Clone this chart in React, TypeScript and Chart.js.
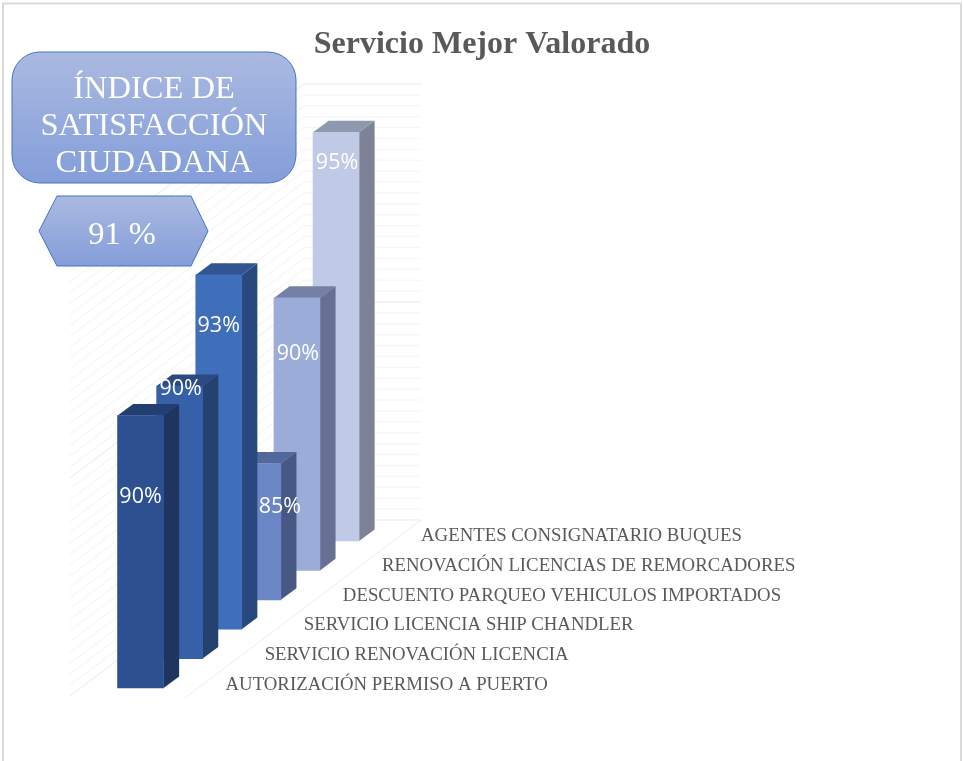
import React, { useEffect, useRef } from "react";
import { Chart, registerables } from "chart.js";

Chart.register(...registerables);

const categories = [
  "AUTORIZACIÓN PERMISO A PUERTO",
  "SERVICIO RENOVACIÓN LICENCIA",
  "SERVICIO LICENCIA SHIP CHANDLER",
  "DESCUENTO PARQUEO VEHICULOS IMPORTADOS",
  "RENOVACIÓN LICENCIAS DE REMORCADORES",
  "AGENTES CONSIGNATARIO BUQUES",
];
const values = [90, 90, 93, 85, 90, 95];
const frontColors = ["#2C5090", "#3660A8", "#3F6EBB", "#6A86C6", "#9CACD9", "#C0C9E5"];
const sideColors = ["#1F3560", "#24416F", "#29497E", "#485884", "#676F92", "#7E8296"];
const topColors = ["#233F72", "#2A4A80", "#305590", "#526899", "#7580A5", "#8F99AE"];
// label anchor relative to the bar's centre (x) and top (y)
const labelDx = [0, 1, 0, 22, 1, 1];
const labelDy = [80, 2, 50, 42, 55, 30];

const STEP_Y = 29.4;
const DEPTH_X = 15.6;
const DEPTH_Y = 11.6;
const WALL_SCALE = 0.8;

const bars3d = {
  id: "bars3d",
  afterDatasetsUpdate(chart: any) {
    const meta = chart.getDatasetMeta(0);
    meta.data.forEach((el: any, i: number) => {
      el.y -= STEP_Y * i;
      el.base -= STEP_Y * i;
    });
  },
  beforeDatasetsDraw(chart: any) {
    const { ctx, scales, chartArea } = chart;
    const y = scales.y;
    const floorY = 520;
    const backL = 304;
    const backR = 421;
    const wallDx = 234;
    const wallDy = 176;
    ctx.save();
    y.ticks.forEach((t: any, i: number) => {
      const py = floorY - (chartArea.bottom - y.getPixelForValue(t.value)) * WALL_SCALE;
      ctx.strokeStyle = i % 20 === 0 ? "rgba(0,0,0,0.06)" : "rgba(0,0,0,0.03)";
      ctx.lineWidth = 1.5;
      ctx.beginPath();
      ctx.moveTo(backL - wallDx, py + wallDy);
      ctx.lineTo(backL, py);
      ctx.lineTo(backR, py);
      ctx.stroke();
    });
    ctx.strokeStyle = "rgba(0,0,0,0.05)";
    ctx.beginPath();
    ctx.moveTo(185, 698);
    ctx.lineTo(backR, floorY);
    ctx.stroke();
    ctx.restore();
  },
  beforeDatasetDraw(chart: any) {
    const { ctx } = chart;
    const meta = chart.getDatasetMeta(0);
    for (let i = meta.data.length - 1; i >= 0; i--) {
      const el = meta.data[i];
      const l = el.x - el.width / 2;
      const r = el.x + el.width / 2;
      ctx.save();
      ctx.fillStyle = sideColors[i];
      ctx.beginPath();
      ctx.moveTo(r, el.y);
      ctx.lineTo(r + DEPTH_X, el.y - DEPTH_Y);
      ctx.lineTo(r + DEPTH_X, el.base - DEPTH_Y);
      ctx.lineTo(r, el.base);
      ctx.closePath();
      ctx.fill();
      ctx.fillStyle = topColors[i];
      ctx.beginPath();
      ctx.moveTo(l, el.y);
      ctx.lineTo(l + DEPTH_X, el.y - DEPTH_Y);
      ctx.lineTo(r + DEPTH_X, el.y - DEPTH_Y);
      ctx.lineTo(r, el.y);
      ctx.closePath();
      ctx.fill();
      ctx.restore();
      el.draw(ctx, chart.chartArea);
    }
    ctx.save();
    ctx.textBaseline = "middle";
    meta.data.forEach((el: any, i: number) => {
      ctx.fillStyle = "#FFFFFF";
      ctx.font = '21.5px "Open Sans"';
      ctx.textAlign = "center";
      ctx.fillText(values[i] + "%", el.x + labelDx[i], el.y + labelDy[i] + 1);
      ctx.fillStyle = "#595959";
      ctx.font = '18.8px "Liberation Serif"';
      ctx.textAlign = "left";
      ctx.fillText(categories[i], el.x + 85, el.base - 3 - 0.35 * i);
    });
    ctx.restore();
    return false;
  },
  afterLayout(chart: any) {
    const t = chart.titleBlock;
    if (t) {
      t.left = 0;
      t.right = chart.width;
      t.width = chart.width;
    }
  },
};

export default function App() {
  const ref = useRef<HTMLCanvasElement>(null);
  useEffect(() => {
    const chart = new Chart(ref.current as HTMLCanvasElement, {
      type: "bar",
      data: {
        labels: categories,
        datasets: [
          {
            label: "Servicio Mejor Valorado",
            data: values,
            base: 80,
            backgroundColor: frontColors,
            borderWidth: 0,
            barThickness: 46,
          },
        ],
      },
      options: {
        responsive: false,
        animation: false,
        layout: { padding: { left: 121, right: 608.4, top: 26, bottom: 73 } },
        scales: {
          x: { display: false },
          y: { display: false, min: 80, max: 100, ticks: { stepSize: 0.5, autoSkip: false, maxTicksLimit: 100 } },
        },
        plugins: {
          legend: { display: false },
          tooltip: { enabled: false },
          title: {
            display: true,
            text: "Servicio Mejor Valorado",
            color: "#595959",
            font: { family: '"Liberation Serif"', size: 32, weight: "bold", lineHeight: 1.2 },
            padding: { top: 0, bottom: 78.6 },
          },
        },
      },
      plugins: [bars3d],
    } as any);
    return () => chart.destroy();
  }, []);

  const textStyle = { fontFamily: '"Liberation Serif"', fontSize: 32.5, fill: "#FFFFFF" };
  return (
    <div style={{ position: "absolute", left: 0, top: 0, width: 964, height: 761, background: "#fff", overflow: "hidden" }}>
      <canvas ref={ref} width={964} height={761} style={{ display: "block", position: "absolute", left: 0, top: 0 }} />
      <svg width={964} height={761} style={{ position: "absolute", left: 0, top: 0 }}>
        <defs>
          <linearGradient id="g" x1="0" y1="0" x2="0" y2="1">
            <stop offset="0" stopColor="#AAB9E0" />
            <stop offset="1" stopColor="#849EDA" />
          </linearGradient>
        </defs>
        <path d="M3 761V3.5H961V761" fill="none" stroke="#DADADA" strokeWidth={2} />
        <rect x={12} y={52} width={284} height={131} rx={28} fill="url(#g)" stroke="#4472C4" strokeWidth={1} />
        <text x={154} y={98} textAnchor="middle" style={textStyle}>ÍNDICE DE</text>
        <text x={154} y={135} textAnchor="middle" style={textStyle}>SATISFACCIÓN</text>
        <text x={154} y={172} textAnchor="middle" style={textStyle}>CIUDADANA</text>
        <polygon points="39,231 57,196 191,196 208,231 191,266 57,266" fill="url(#g)" stroke="#4472C4" strokeWidth={1} />
        <text x={122} y={244} textAnchor="middle" style={textStyle}>91 %</text>
      </svg>
    </div>
  );
}
